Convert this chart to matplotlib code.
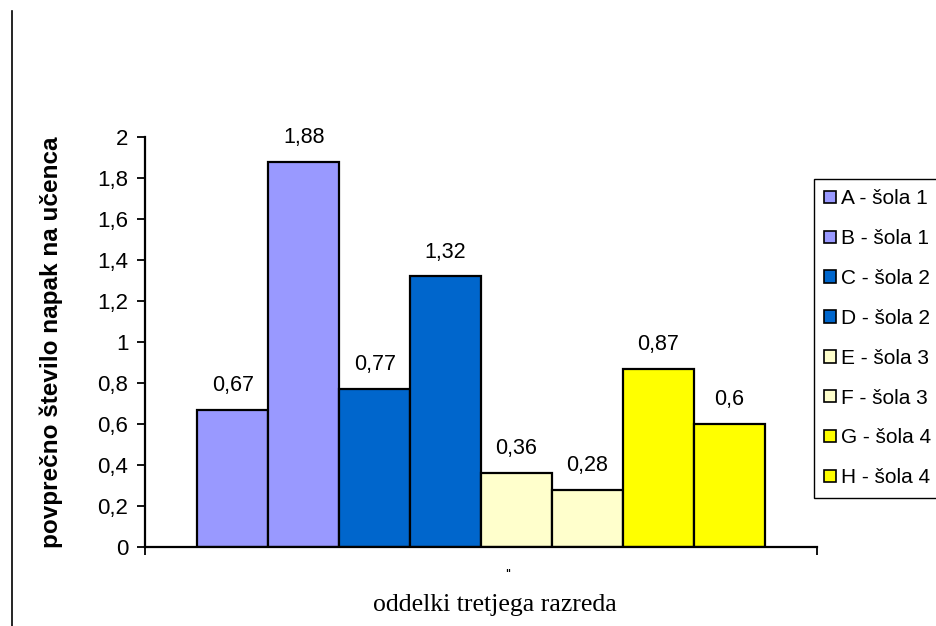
import matplotlib
matplotlib.use('Agg')
import matplotlib.pyplot as plt
from matplotlib.lines import Line2D
from matplotlib.patches import Patch

series = ['A - šola 1', 'B - šola 1', 'C - šola 2', 'D - šola 2',
          'E - šola 3', 'F - šola 3', 'G - šola 4', 'H - šola 4']
values = [0.67, 1.88, 0.77, 1.32, 0.36, 0.28, 0.87, 0.6]
colors = ['#9999FF', '#9999FF', '#0066CC', '#0066CC',
          '#FFFFCC', '#FFFFCC', '#FFFF00', '#FFFF00']
yticks = [0, 0.2, 0.4, 0.6, 0.8, 1, 1.2, 1.4, 1.6, 1.8, 2]

plt.rcParams['font.family'] = ['Liberation Sans', 'DejaVu Sans']

fig = plt.figure(figsize=(9.37, 6.26), dpi=100)
ax = fig.add_axes([145/937, 1 - 547/626, 672/937, 410/626])

n = len(values)
for i, (v, c, s) in enumerate(zip(values, colors, series)):
    x = i - (n - 1) / 2
    ax.bar(x, v, width=1.0, color=c, edgecolor='black', linewidth=1.6, label=s)
    txt = str(v).replace('.', ',')
    ax.annotate(txt, (x, v), xytext=(0, 10), textcoords='offset points',
                ha='center', va='bottom', fontsize=15.5)

ax.set_xlim(-4.74, 4.74)
ax.set_ylim(0, 2)
ax.set_yticks(yticks)
ax.set_yticklabels([('%g' % t).replace('.', ',') for t in yticks], fontsize=16)
ax.set_xticks([-4.74, 4.74])
ax.set_xticklabels([])
ax.tick_params(axis='both', direction='out', length=6, width=1.3, color='black')
ax.tick_params(axis='y', pad=6)
for side in ['top', 'right']:
    ax.spines[side].set_visible(False)
for side in ['left', 'bottom']:
    ax.spines[side].set_linewidth(1.6)
    ax.spines[side].set_color('black')

ax.set_ylabel('povprečno število napak na učenca', fontsize=17.5, fontweight='bold')
ax.yaxis.set_label_coords(-0.122, 0.5)
fig.text(508/937, 1 - 575/626, "''", fontsize=11, ha='center', va='center')
fig.text(495/937, 1 - 605/626, 'oddelki tretjega razreda', fontsize=18.5,
         family='Liberation Serif', ha='center', va='center')

handles = [Patch(facecolor=c, edgecolor='black', linewidth=1.2) for c in colors]
leg = fig.legend(handles, series, loc='upper left',
                 bbox_to_anchor=(814/937, 1 - 179/626), fontsize=15,
                 handlelength=0.55, handleheight=0.55, handletextpad=0.25,
                 labelspacing=1.0, borderpad=0.5, borderaxespad=0,
                 fancybox=False, framealpha=1)
leg.get_frame().set_edgecolor('black')
leg.get_frame().set_linewidth(1.0)

# thin frame line on the left edge
fig.add_artist(Line2D([12/937, 12/937], [0, 1 - 11/626], transform=fig.transFigure,
                      color='black', linewidth=1.2))

fig.savefig('out.png', dpi=100)
